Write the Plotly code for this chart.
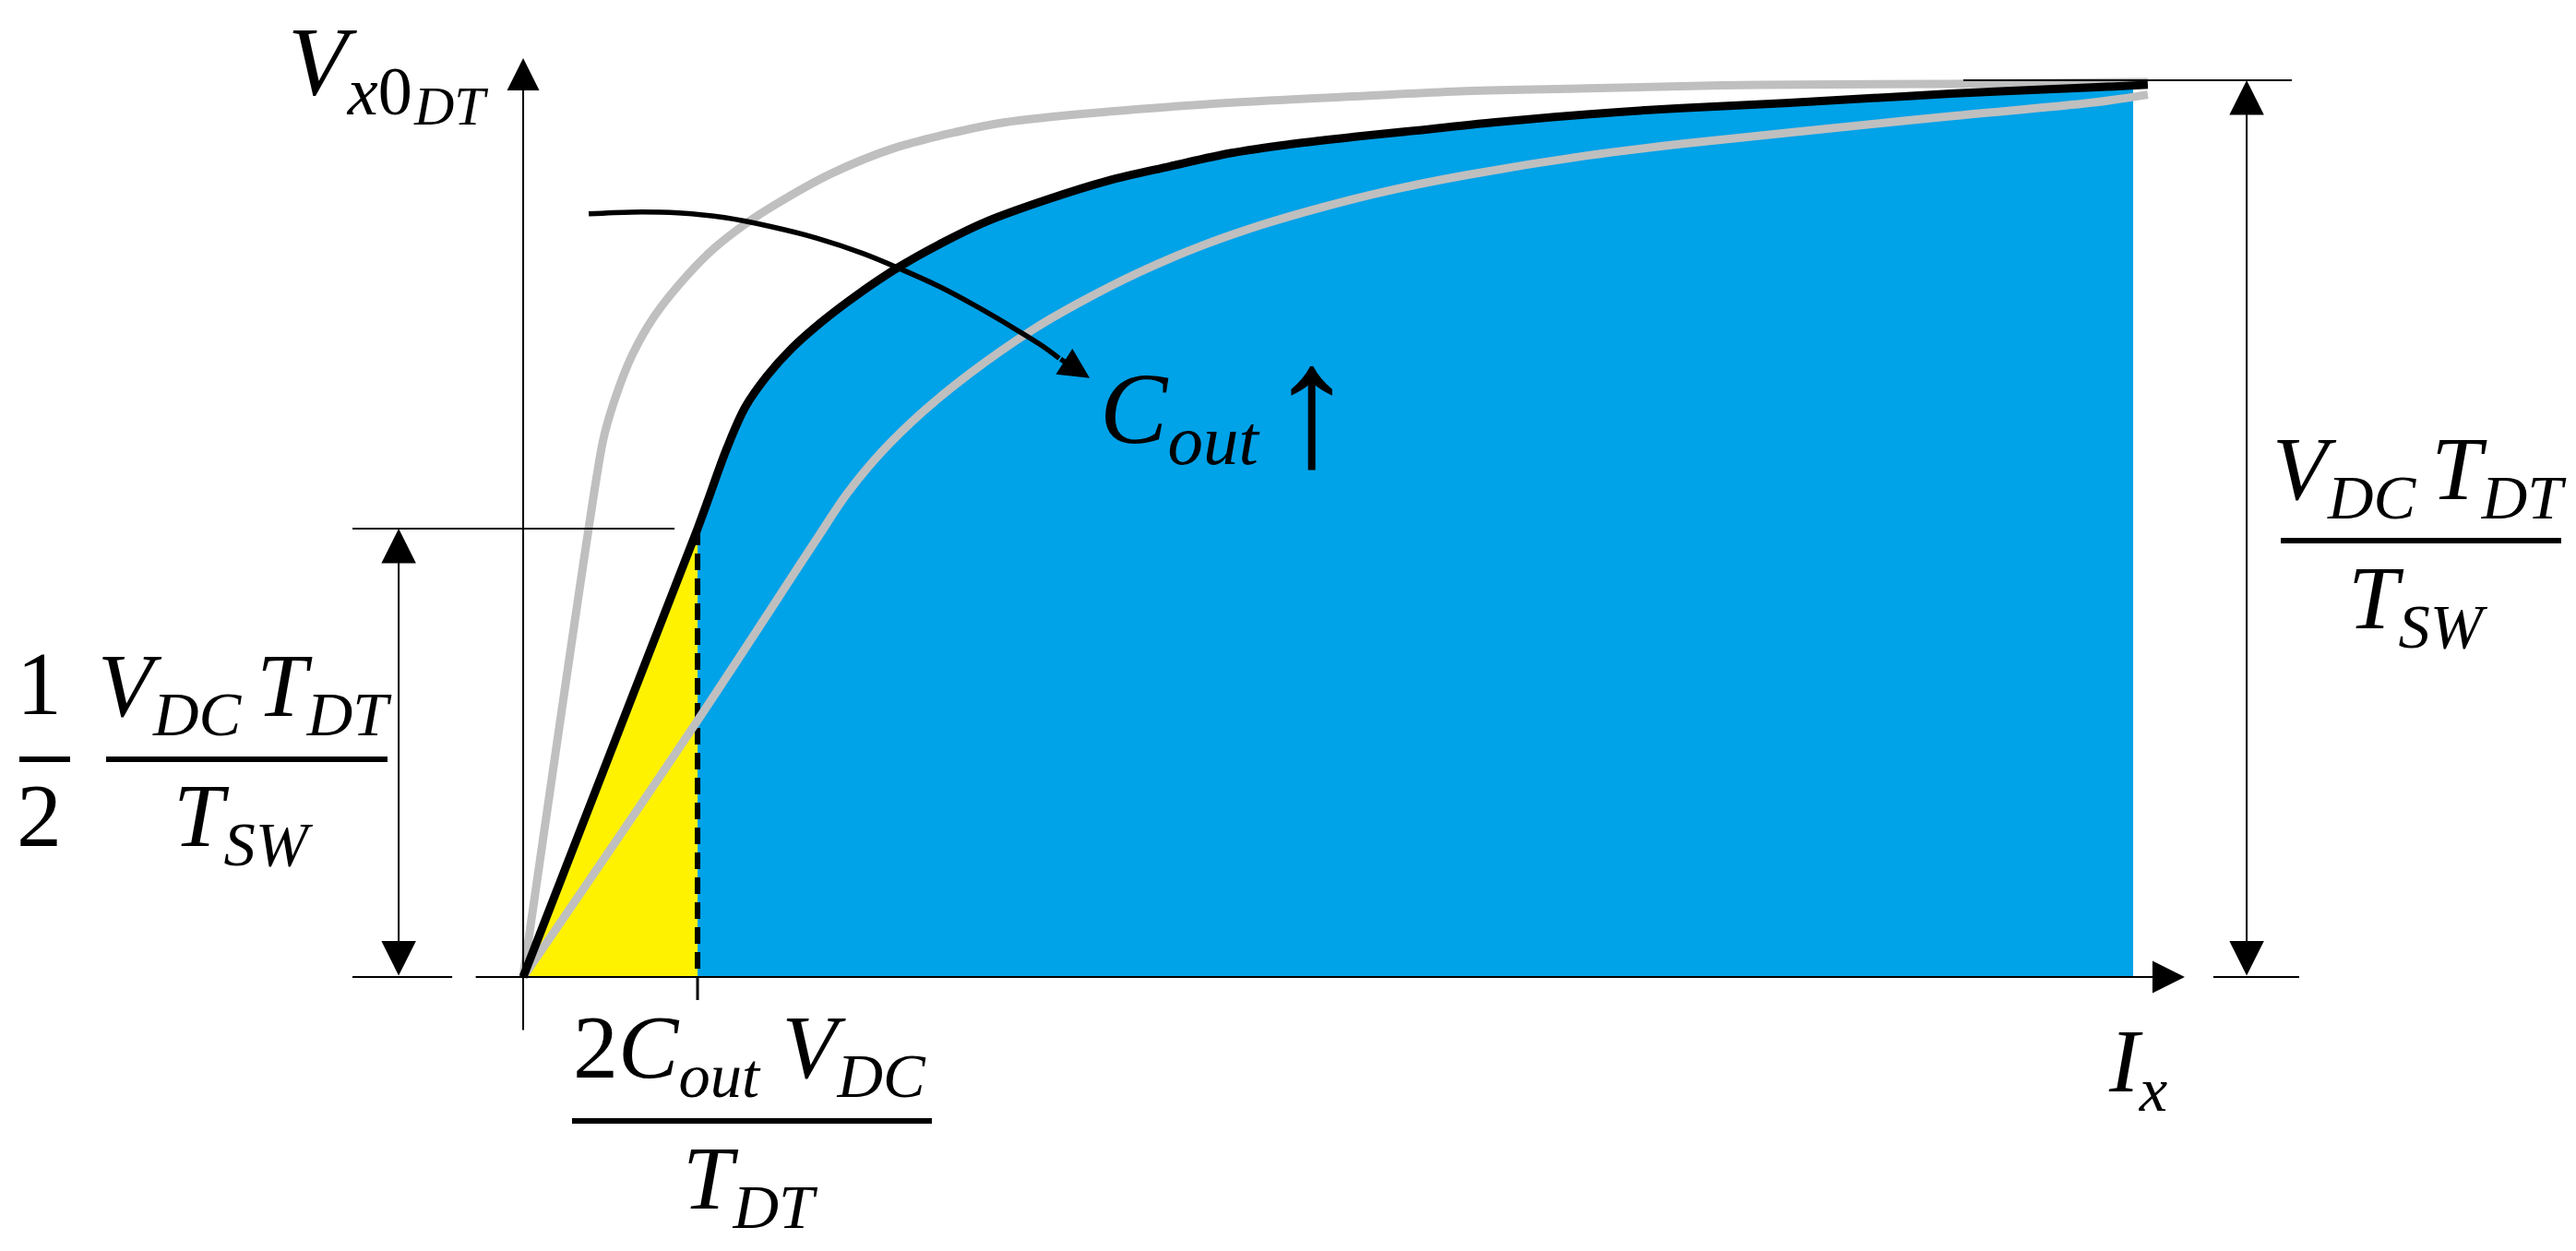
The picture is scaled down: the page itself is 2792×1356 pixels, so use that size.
import plotly.graph_objects as go

W, H = 2792, 1356

# normalised units: Ix in multiples of 2*Cout*Vdc/Tdt, Vx0 in multiples of Vdc*Tdt/Tsw
knee_i = 1.0
knee_v = 0.5

# nominal Cout (black)
curve_i = [0, 1.000, 1.169, 1.275, 1.397, 1.540, 1.714, 1.910, 2.148, 2.386, 2.651, 3.005,
           3.354, 3.709, 4.063, 4.413, 4.767, 5.122, 5.561, 6.101, 6.640, 7.376, 8.185, 8.995, 9.317]
curve_v = [0, 0.500, 0.590, 0.636, 0.670, 0.701, 0.731, 0.760, 0.791, 0.817, 0.842, 0.867,
           0.888, 0.904, 0.919, 0.929, 0.937, 0.944, 0.953, 0.962, 0.969, 0.976, 0.985, 0.992, 0.995]

# smaller Cout (grey, upper)
small_i = [0, 0.429, 0.466, 0.534, 0.624, 0.746, 0.889, 1.063, 1.275, 1.503, 1.767, 2.122,
           2.476, 2.757, 3.354, 4.063, 4.767, 5.402, 6.101, 7.095, 8.185, 9.317]
small_v = [0, 0.567, 0.605, 0.649, 0.693, 0.735, 0.771, 0.807, 0.840, 0.868, 0.896, 0.924,
           0.942, 0.953, 0.965, 0.975, 0.982, 0.988, 0.991, 0.995, 0.996, 0.998]

# larger Cout (grey, lower)
large_i = [0, 1.000, 1.672, 1.857, 2.053, 2.296, 2.561, 2.915, 3.180, 3.534, 3.884, 4.238,
           4.593, 4.942, 5.402, 6.101, 6.640, 7.376, 8.185, 8.995, 9.317]
large_v = [0, 0.286, 0.485, 0.539, 0.585, 0.631, 0.673, 0.721, 0.751, 0.786, 0.815, 0.839,
           0.859, 0.876, 0.894, 0.916, 0.929, 0.944, 0.960, 0.975, 0.984]

# right edge of the blue area
fill_edge_i = 9.233
fill_edge_v = 0.994

# "Cout up" curved arrow
cout_i = [0.376, 0.624, 0.889, 1.153, 1.418, 1.683, 1.947, 2.159, 2.386, 2.598, 2.810, 2.968, 3.074]
cout_v = [0.851, 0.853, 0.852, 0.847, 0.837, 0.824, 0.807, 0.790, 0.770, 0.748, 0.724, 0.705, 0.690]
cout_tip = (3.249, 0.668)

FONT = "Liberation Serif"

fig = go.Figure()

# blue region under the curve, yellow triangle under the linear part
fig.add_trace(go.Scatter(x=curve_i[1:-1] + [fill_edge_i], y=curve_v[1:-1] + [fill_edge_v],
                         mode="lines", fill="tozeroy", fillcolor="#00A2E8",
                         line=dict(width=0, shape="spline")))
fig.add_trace(go.Scatter(x=[0, knee_i, knee_i], y=[0, knee_v, 0], mode="lines",
                         fill="toself", fillcolor="#FFF200", line=dict(width=0)))

# dashed drop line at the knee
fig.add_trace(go.Scatter(x=[knee_i, knee_i], y=[knee_v, 0], mode="lines",
                         line=dict(color="black", width=6, dash="18px,9px")))

for xs, ys in [(small_i, small_v), (large_i, large_v)]:
    fig.add_trace(go.Scatter(x=xs, y=ys, mode="lines",
                             line=dict(color="#BFBFBF", width=9, shape="spline", smoothing=1)))

fig.add_trace(go.Scatter(x=curve_i, y=curve_v, mode="lines",
                         line=dict(color="black", width=9, shape="spline", smoothing=1)))

fig.add_trace(go.Scatter(x=cout_i, y=cout_v, mode="lines",
                         line=dict(color="black", width=5.5, shape="spline")))


def arrow(x0, y0, x1, y1, w=2, size=3.5, both=False):
    fig.add_annotation(x=x1, y=y1, ax=x0, ay=y0, xref="x", yref="y", axref="x", ayref="y",
                       text="", showarrow=True, arrowhead=2, arrowsize=size, arrowwidth=w,
                       arrowcolor="black", arrowside="end+start" if both else "end",
                       startarrowhead=2, startarrowsize=size, standoff=0, startstandoff=0)


def seg(x0, y0, x1, y1, w=2, ref="data"):
    r = dict(xref="x", yref="y") if ref == "data" else dict(xref="paper", yref="paper")
    if ref != "data":
        x0, x1 = x0 / W, x1 / W
        y0, y1 = 1 - y0 / H, 1 - y1 / H
    fig.add_shape(type="line", x0=x0, y0=y0, x1=x1, y1=y1,
                  line=dict(color="black", width=w), **r)


# axes
arrow(-0.280, 0, 9.529, 0)
arrow(0, -0.0607, 0, 1.0247)

# extension lines
seg(-0.979, knee_v, 0.868, knee_v)
seg(-0.979, 0, -0.407, 0)
seg(8.259, 1, 10.143, 1)
seg(9.693, 0, 10.185, 0)
seg(knee_i, 0, knee_i, -0.0257, w=3)

# dimension arrows
arrow(-0.714, 0, -0.714, knee_v, size=3.75, both=True)
arrow(9.884, 0, 9.884, 1, size=3.75, both=True)

# Cout arrow head
arrow(cout_i[-1], cout_v[-1], cout_tip[0], cout_tip[1], w=5.5, size=1.2)

# fraction bars (pixel positions on the page)
seg(13, 815, 68, 815, w=6, ref="paper")
seg(107, 815, 412, 815, w=6, ref="paper")
seg(2464, 578, 2768, 578, w=6, ref="paper")
seg(612, 1207, 1002, 1207, w=6, ref="paper")


def label(text, px, top, size, anchor="left"):
    fig.add_annotation(x=px / W, y=1 - top / H, xref="paper", yref="paper", text=text,
                       showarrow=False, xanchor=anchor, yanchor="top", borderpad=0,
                       borderwidth=0, font=dict(family=FONT, size=size, color="black"))


vt = "<i>V</i><sub><i>DC </i></sub><i>T</i><sub><i>DT</i></sub>"
tsw = "<i>T</i><sub><i>SW</i></sub>"

label("<i>V</i><sub><i>x</i>0</sub>", 304, 0, 106)
label("<i>DT</i>", 440, 74, 60)
label("1", 34, 679, 98, "center")
label("2", 34, 822, 98, "center")
label(vt, 257, 681, 98, "center")
label(tsw, 256, 822, 98, "center")
label(vt, 2614, 446, 98, "center")
label(tsw, 2613, 586, 98, "center")
label("2<i>C</i><sub><i>out</i></sub> <i>V</i><sub><i>DC</i></sub>", 804, 1073, 98, "center")
label("<i>T</i><sub><i>DT</i></sub>", 805, 1215, 98, "center")
label("<i>I</i><sub><i>x</i></sub>", 2277, 1088, 98)
label("<i>C</i><sub><i>out</i></sub>", 1184, 374, 110)
label("↑", 1413, 327, 190, "center")

fig.update_layout(
    width=W, height=H, autosize=False,
    margin=dict(l=0, r=0, t=0, b=0),
    paper_bgcolor="white", plot_bgcolor="white",
    showlegend=False,
    xaxis=dict(visible=False, range=[-2.958, 11.815], fixedrange=True),
    yaxis=dict(visible=False, range=[-0.3138, 1.0813], fixedrange=True),
)

fig.write_html("out.html")
